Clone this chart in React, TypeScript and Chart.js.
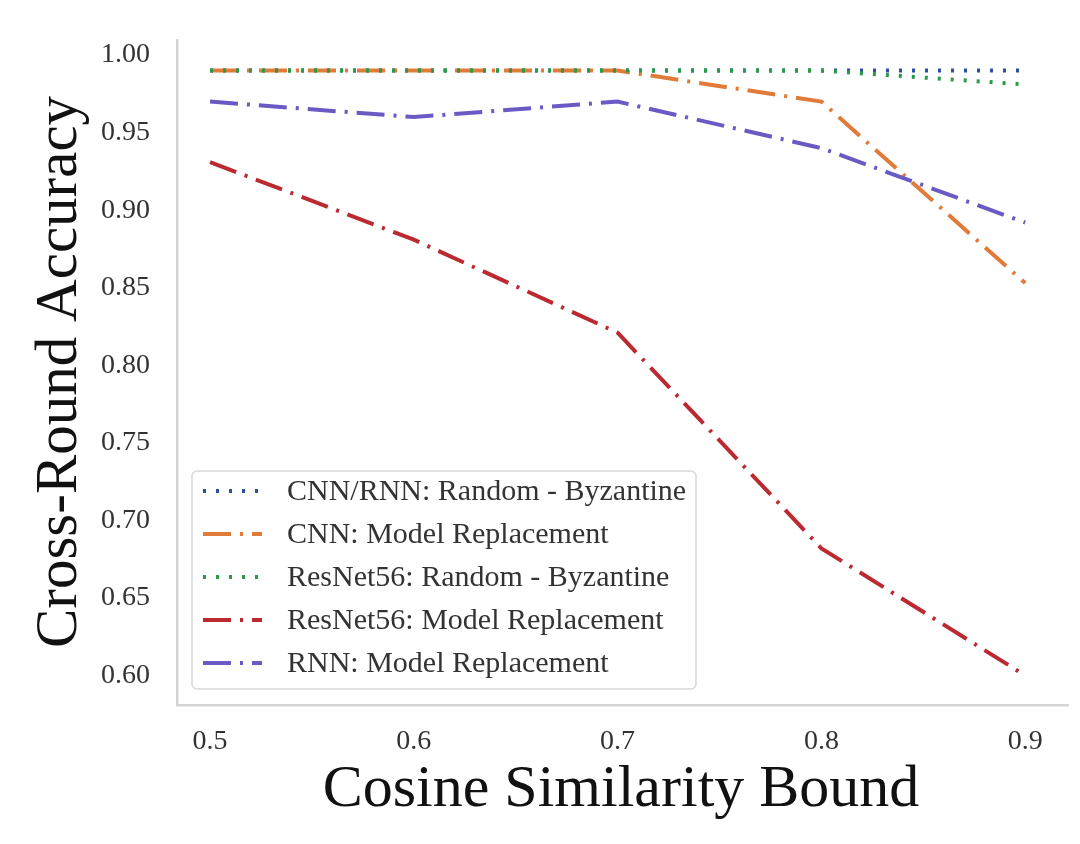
import React, { useEffect, useRef } from "react";
import { Chart, registerables } from "chart.js";

Chart.register(...registerables);

// ---- data ----
const xValues = [0.5, 0.6, 0.7, 0.8, 0.9];
const xTickValues = [0.5, 0.6, 0.7, 0.8, 0.9];
const yTickValues = [0.6, 0.65, 0.7, 0.75, 0.8, 0.85, 0.9, 0.95, 1.0];

const seriesLabels = [
  "CNN/RNN: Random - Byzantine",
  "CNN: Model Replacement",
  "ResNet56: Random - Byzantine",
  "ResNet56: Model Replacement",
  "RNN: Model Replacement",
];
const cnnRnnRandom = [0.99, 0.99, 0.99, 0.99, 0.99];
const cnnModelReplacement = [0.99, 0.99, 0.99, 0.97, 0.853];
const resnetRandom = [0.99, 0.99, 0.99, 0.99, 0.981];
const resnetModelReplacement = [0.931, 0.881, 0.821, 0.682, 0.6];
const rnnModelReplacement = [0.97, 0.96, 0.97, 0.94, 0.892];

const xTitle = "Cosine Similarity Bound";
const yTitle = "Cross-Round Accuracy";

// ---- styles ----
const seriesColors = ["#2a4fa3", "#e07b3a", "#2a9a45", "#bb2a30", "#6a5ac4"];
const DOT = [3, 10];
const DASHDOT = [28, 9, 3, 9];
const seriesDashes = [DOT, DASHDOT, DOT, DASHDOT, DASHDOT];
const seriesValues = [
  cnnRnnRandom,
  cnnModelReplacement,
  resnetRandom,
  resnetModelReplacement,
  rnnModelReplacement,
];

const SERIF = "'Liberation Serif', 'DejaVu Serif', serif";

const overlayPlugin = {
  id: "overlay",
  afterDraw(chart: any) {
    const ctx = chart.ctx;
    ctx.save();
    // axis titles
    ctx.fillStyle = "#111";
    ctx.font = `60px ${SERIF}`;
    ctx.textAlign = "center";
    ctx.textBaseline = "middle";
    ctx.fillText(xTitle, 621, 790);
    ctx.save();
    ctx.translate(60, 372);
    ctx.rotate(-Math.PI / 2);
    ctx.font = `59px ${SERIF}`;
    ctx.fillText(yTitle, 0, 0);
    ctx.restore();

    // legend
    const bx = 192, by = 471, bw = 504, bh = 218, r = 5;
    ctx.beginPath();
    ctx.moveTo(bx + r, by);
    ctx.lineTo(bx + bw - r, by);
    ctx.arcTo(bx + bw, by, bx + bw, by + r, r);
    ctx.lineTo(bx + bw, by + bh - r);
    ctx.arcTo(bx + bw, by + bh, bx + bw - r, by + bh, r);
    ctx.lineTo(bx + r, by + bh);
    ctx.arcTo(bx, by + bh, bx, by + bh - r, r);
    ctx.lineTo(bx, by + r);
    ctx.arcTo(bx, by, bx + r, by, r);
    ctx.closePath();
    ctx.fillStyle = "rgba(255,255,255,0.85)";
    ctx.fill();
    ctx.strokeStyle = "#d8d8d8";
    ctx.lineWidth = 1.5;
    ctx.stroke();

    const rowY0 = 491;
    const rowGap = 43;
    chart.data.datasets.forEach((ds: any, i: number) => {
      const y = rowY0 + i * rowGap;
      ctx.beginPath();
      ctx.setLineDash(ds.borderDash || []);
      ctx.strokeStyle = ds.borderColor;
      ctx.lineWidth = ds.borderWidth;
      ctx.moveTo(203, y);
      ctx.lineTo(262, y);
      ctx.stroke();
      ctx.setLineDash([]);
      ctx.fillStyle = "#333";
      ctx.font = `30px ${SERIF}`;
      ctx.textAlign = "left";
      ctx.textBaseline = "middle";
      ctx.fillText(ds.label, 287, y + 1);
    });
    ctx.restore();
  },
};

export default function App() {
  const canvasRef = useRef<HTMLCanvasElement | null>(null);

  useEffect(() => {
    const canvas = canvasRef.current;
    if (!canvas) return;
    const datasets = seriesLabels.map((label, i) => ({
      label,
      data: xValues.map((x, j) => ({ x, y: seriesValues[i][j] })),
      borderColor: seriesColors[i],
      backgroundColor: seriesColors[i],
      borderWidth: 4,
      borderDash: seriesDashes[i],
      borderCapStyle: "butt",
      pointRadius: 0,
      tension: 0,
      fill: false,
      order: seriesLabels.length - i,
    }));

    const chart = new Chart(canvas, {
      type: "line",
      data: { datasets } as any,
      options: {
        animation: false,
        responsive: false,
        maintainAspectRatio: false,
        layout: { padding: { top: 40, right: 12, left: 0, bottom: 0 } },
        plugins: {
          legend: { display: false },
          tooltip: { enabled: false },
        },
        scales: {
          x: {
            type: "linear",
            min: 0.4838,
            max: 0.921,
            afterBuildTicks: (s: any) => {
              s.ticks = xTickValues.map((v) => ({ value: v }));
            },
            afterFit: (s: any) => {
              s.height = 139;
              s.paddingLeft = 0;
              s.paddingRight = 0;
            },
            grid: { display: false, drawTicks: false },
            border: { display: true, color: "#d4d4d4", width: 2.5 },
            ticks: {
              padding: 20,
              color: "#333",
              font: { family: SERIF, size: 28 },
              callback: (v: any) => Number(v).toFixed(1),
            },
          },
          y: {
            type: "linear",
            min: 0.581,
            max: 1.0097,
            afterBuildTicks: (s: any) => {
              s.ticks = yTickValues.map((v) => ({ value: v }));
            },
            afterFit: (s: any) => {
              s.width = 177;
              s.paddingTop = 0;
              s.paddingBottom = 0;
            },
            grid: { display: false, drawTicks: false },
            border: { display: true, color: "#d4d4d4", width: 2.5 },
            ticks: {
              padding: 27,
              color: "#333",
              font: { family: SERIF, size: 28 },
              callback: (v: any) => Number(v).toFixed(2),
            },
          },
        },
      } as any,
      plugins: [overlayPlugin],
    });
    return () => chart.destroy();
  }, []);

  return (
    <div
      style={{
        position: "fixed",
        left: 0,
        top: 0,
        width: 1080,
        height: 844,
        background: "#fff",
      }}
    >
      <canvas ref={canvasRef} width={1080} height={844} />
    </div>
  );
}
